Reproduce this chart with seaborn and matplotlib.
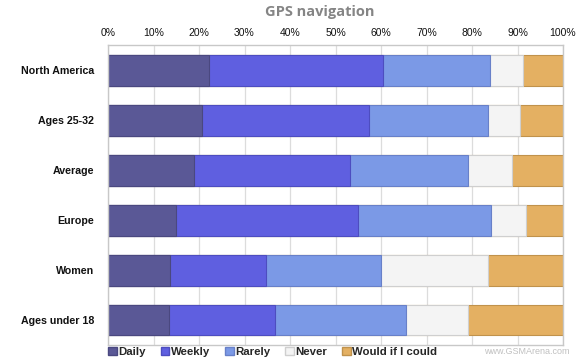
import numpy as np
import pandas as pd
import matplotlib
matplotlib.use('Agg')
import matplotlib.pyplot as plt
import seaborn as sns
from matplotlib.patches import Patch

# data (percent of respondents)
groups = ['North America', 'Ages 25-32', 'Average', 'Europe', 'Women', 'Ages under 18']
answers = ['Daily', 'Weekly', 'Rarely', 'Never', 'Would if I could']
daily = [22.3, 20.7, 18.9, 15.0, 13.7, 13.4]
weekly = [38.1, 36.6, 34.2, 40.0, 21.1, 23.4]
rarely = [23.5, 26.3, 26.1, 29.2, 25.3, 28.8]
never = [7.3, 7.0, 9.5, 7.6, 23.5, 13.6]
would = [8.8, 9.4, 11.3, 8.2, 16.4, 20.8]
tick_labels = ['0%', '10%', '20%', '30%', '40%', '50%', '60%', '70%', '80%', '90%', '100%']

colors = ['#5a5896', '#5f5fe0', '#7b99e6', '#f4f4f4', '#e4b062']
edges = ['#4a4880', '#4d4dc0', '#6880c8', '#cfcfcf', '#c0924c']

sns.set_style('white')
plt.rcParams['font.family'] = ['Liberation Sans', 'DejaVu Sans']

# stacked bars: draw cumulative totals from the back to the front
series = np.array([daily, weekly, rarely, never, would])
cum = np.cumsum(series, axis=0)
df = pd.DataFrame({'group': groups})

fig = plt.figure(figsize=(5.81, 3.6), dpi=100)
ax = fig.add_axes([108 / 581, 1 - 345 / 360, 455 / 581, 300 / 360])

for i in range(len(answers) - 1, -1, -1):
    df['value'] = cum[i]
    sns.barplot(data=df, x='value', y='group', orient='h', color=colors[i],
                width=0.62, ax=ax, saturation=1, edgecolor=edges[i], linewidth=0.8)

ax.set_xlim(0, 100)
ax.set_xticks(np.arange(0, 101, 10))
ax.set_xticklabels(tick_labels, fontsize=7.5, color='#111111')
ax.xaxis.tick_top()
ax.tick_params(axis='x', length=0, pad=5)
ax.tick_params(axis='y', length=0, pad=10)
for lab in ax.get_yticklabels():
    lab.set_fontsize(7.7)
    lab.set_fontweight('bold')
    lab.set_color('#111111')
ax.set_xlabel('')
ax.set_ylabel('')
ax.grid(axis='x', color='#dcdcdc', linewidth=0.9)
ax.set_axisbelow(True)
for s in ax.spines.values():
    s.set_color('#c8c8c8')
    s.set_linewidth(1.0)

fig.text(320 / 581, 1 - 12 / 360, 'GPS navigation', ha='center', va='center',
         fontsize=10.5, fontweight='bold', color='#858585', family=['Open Sans', 'DejaVu Sans'])

handles = [Patch(facecolor=colors[i], edgecolor=edges[i], label=answers[i]) for i in range(len(answers))]
fig.legend(handles=handles, loc='center left', bbox_to_anchor=(107 / 581, 1 - 352 / 360), ncol=5,
           frameon=False, handlelength=0.75, handleheight=0.75,
           handletextpad=0.15, columnspacing=1.3, borderaxespad=0, borderpad=0.1,
           prop={'weight': 'bold', 'size': 8.2, 'family': ['Liberation Sans', 'DejaVu Sans']})

fig.text(570 / 581, 1 - 351 / 360, 'www.GSMArena.com', ha='right', va='center',
         fontsize=6.5, color='#c0c0c0')

fig.savefig('out.png', dpi=100)
